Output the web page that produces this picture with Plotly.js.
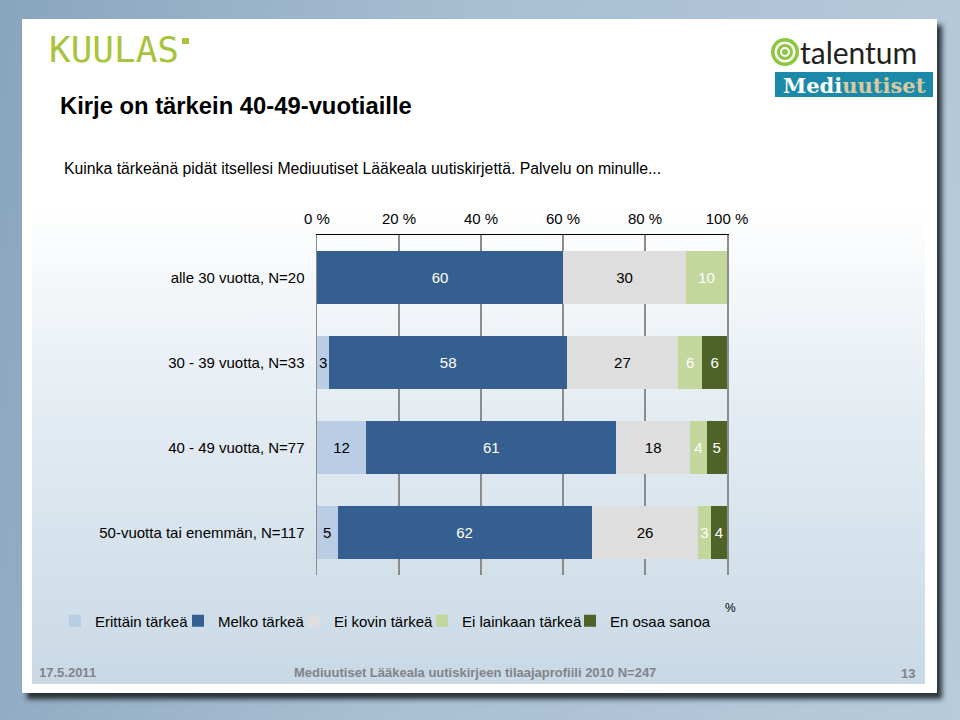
<!DOCTYPE html>
<html>
<head>
<meta charset="utf-8">
<script src="https://cdn.plot.ly/plotly-3.0.1.min.js"></script>
<style>
  html, body { margin:0; padding:0; width:960px; height:720px; overflow:hidden; }
  #bg { position:absolute; left:0; top:0; width:960px; height:720px;
        background: linear-gradient(100deg, #89a5be 0%, #a8bfd2 45%, #b7cbdb 100%); }
  #slide { position:absolute; left:22px; top:19px; width:915px; height:674px; background:#ffffff;
           box-shadow: 5px 6px 5px rgba(20,25,30,0.85); }
  #inner { position:absolute; left:32px; top:19px; width:893px; height:665px;
           background: linear-gradient(180deg, #ffffff 0%, #ffffff 28%, #e7eef4 55%, #d2e0ea 85%, #c9d9e5 100%); }
  #footer { position:absolute; left:32px; top:660px; width:893px; height:24px; background:#c9d9e5; }
  #chart { position:absolute; left:0; top:0; width:960px; height:720px; }
</style>
</head>
<body>
<div id="bg"></div>
<div id="slide"></div>
<div id="inner"></div>
<div id="footer"></div>
<div id="chart"></div>
<script>
// ---- data ----
const categories = ["alle 30 vuotta, N=20", "30 - 39 vuotta, N=33", "40 - 49 vuotta, N=77", "50-vuotta tai enemmän, N=117"];
const seriesNames = ["Erittäin tärkeä", "Melko tärkeä", "Ei kovin tärkeä", "Ei lainkaan tärkeä", "En osaa sanoa"];
const erittain = [0, 3, 12, 5];
const melko = [60, 58, 61, 62];
const eiKovin = [30, 27, 18, 26];
const eiLainkaan = [10, 6, 4, 3];
const enOsaa = [0, 6, 5, 4];
const tickVals = [0, 20, 40, 60, 80, 100];
const tickLabels = ["0 %", "20 %", "40 %", "60 %", "80 %", "100 %"];

// ---- styles ----
const colors = ["#b9cde4", "#365f91", "#dedede", "#c3d69b", "#4f6228"];
const textColors = ["#000000", "#ffffff", "#000000", "#ffffff", "#ffffff"];
const legendTextX = [95, 218, 334, 462, 610];
const FONT = "Liberation Sans, Arial, sans-serif";

const px = v => v / 960;
const py = v => 1 - v / 720;

const seriesValues = [erittain, melko, eiKovin, eiLainkaan, enOsaa];
const legendIds = ["legend", "legend2", "legend3", "legend4", "legend5"];
const traces = seriesValues.map((vals, i) => ({
  type: "bar",
  orientation: "h",
  name: seriesNames[i],
  legend: legendIds[i],
  y: categories,
  x: vals,
  text: vals.map(v => v > 0 ? String(v) : ""),
  textposition: "inside",
  insidetextanchor: "middle",
  constraintext: "none",
  textfont: { family: FONT, size: 15, color: textColors[i] },
  marker: { color: colors[i], line: { width: 0 } },
  hoverinfo: "none"
}));

function ann(text, x, y, opts) {
  return Object.assign({
    text: text, xref: "paper", yref: "paper", x: px(x), y: py(y),
    xanchor: "left", yanchor: "middle", showarrow: false,
    font: { family: FONT, size: 14, color: "#000" }
  }, opts || {});
}

const annotations = [
  ann("<b>Kirje on tärkein 40-49-vuotiaille</b>", 58, 105, { font: { family: FONT, size: 23.8, color: "#000" } }),
  ann("Kuinka tärkeänä pidät itsellesi Mediuutiset Lääkeala uutiskirjettä. Palvelu on minulle...", 62, 168, { font: { family: FONT, size: 15.8, color: "#000" } }),
  ann("%", 723, 608, { font: { family: FONT, size: 12, color: "#000" } }),
  ann("<b>17.5.2011</b>", 37, 672, { font: { family: FONT, size: 13, color: "#7f8489" } }),
  ann("<b>Mediuutiset Lääkeala uutiskirjeen tilaajaprofiili 2010 N=247</b>", 475, 672, { xanchor: "center", font: { family: FONT, size: 13, color: "#7f8489" } }),
  ann("<b>13</b>", 917, 673, { xanchor: "right", font: { family: FONT, size: 13, color: "#7f8489" } }),
  ann("KUULAS", 47, 50, { font: { family: "DejaVu Sans Mono, monospace", size: 36, color: "#a8c43c" } }),
  ann("talentum", 798, 52, { font: { family: "Lato, Open Sans, sans-serif", size: 30, color: "#231f20" } }),
  ann("<b>Medi<span style='color:#d8c9a3'>uutiset</span></b>", 854, 85, { xanchor: "center", font: { family: "DejaVu Serif, serif", size: 21, color: "#ffffff" } })
];

function rect(x0, y0, x1, y1, fill) {
  return { type: "rect", xref: "paper", yref: "paper", x0: px(x0), x1: px(x1), y0: py(y1), y1: py(y0),
           fillcolor: fill, line: { width: 0 }, layer: "above" };
}
function circ(cx, cy, r, fill) {
  return { type: "circle", xref: "paper", yref: "paper", x0: px(cx - r), x1: px(cx + r), y0: py(cy + r), y1: py(cy - r),
           fillcolor: fill, line: { width: 0 }, layer: "above" };
}
const shapes = [
  rect(182, 38, 189, 44, "#a8c43c"),
  rect(775, 72, 933, 97, "#1b8aa9"),
  circ(785, 52, 14, "#8dc63f"),
  circ(785, 52, 10.5, "#ffffff"),
  circ(785, 52, 8, "#8dc63f"),
  circ(785, 52, 5, "#ffffff"),
  circ(785, 52, 3, "#8dc63f")
];

const layout = {
  width: 960, height: 720,
  margin: { l: 0, r: 0, t: 0, b: 0 },
  paper_bgcolor: "rgba(0,0,0,0)",
  plot_bgcolor: "rgba(0,0,0,0)",
  barmode: "stack",
  bargap: 0.38,
  showlegend: true,
  font: { family: FONT, size: 15, color: "#000" },
  xaxis: {
    domain: [px(317), px(727)],
    range: [0, 100],
    side: "top",
    tickvals: tickVals,
    ticktext: tickLabels,
    tickfont: { family: FONT, size: 15, color: "#000" },
    showline: true, linecolor: "#000", linewidth: 1.5,
    ticks: "", showgrid: true, gridcolor: "#8c8c8c", gridwidth: 1.5,
    ticklabelstandoff: 4,
    zeroline: false, fixedrange: true
  },
  yaxis: {
    domain: [py(575), py(235)],
    autorange: "reversed",
    type: "category",
    tickfont: { family: FONT, size: 15, color: "#000" },
    ticks: "", showline: true, mirror: true, linecolor: "#8c8c8c", linewidth: 1.5,
    showgrid: false, zeroline: false,
    ticklabelstandoff: 8, fixedrange: true
  },
  annotations: annotations,
  shapes: shapes
};

legendIds.forEach((id, i) => {
  layout[id] = {
    orientation: "h",
    x: px(legendTextX[i] - 40), xanchor: "left",
    y: py(621), yanchor: "middle",
    bgcolor: "rgba(0,0,0,0)",
    font: { family: FONT, size: 15, color: "#000" },
    itemclick: false, itemdoubleclick: false
  };
});

Plotly.newPlot("chart", traces, layout, { displayModeBar: false, staticPlot: true });
</script>
</body>
</html>
